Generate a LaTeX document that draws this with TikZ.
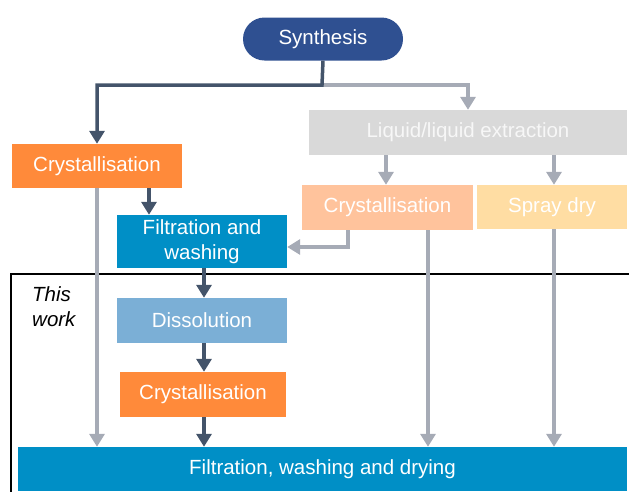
\documentclass[tikz,border=0pt]{standalone}
\usepackage{fontspec}
\setmainfont{Liberation Sans}
\usetikzlibrary{arrows.meta}
\definecolor{synblue}{HTML}{2F5091}
\definecolor{darkline}{HTML}{44546A}
\definecolor{grayline}{HTML}{A6ABB6}
\definecolor{liqgray}{HTML}{D9D9D9}
\definecolor{orangeA}{HTML}{FF8A3A}
\definecolor{orangeB}{HTML}{FFC39C}
\definecolor{yellowB}{HTML}{FFDDA3}
\definecolor{blueA}{HTML}{008FC6}
\definecolor{blueB}{HTML}{7BAFD6}
\tikzset{
  procbox/.style={minimum width=#1, inner sep=0pt, text=white, align=center,
    font=\fontsize{20.5}{25}\selectfont},
  darkarrow/.style={draw=darkline, line width=3.5pt, -{Triangle[width=15pt,length=13pt]}},
  grayarrow/.style={draw=grayline, line width=3.5pt, -{Triangle[width=15pt,length=13pt]}},
}
\begin{document}
\begin{tikzpicture}[x=1pt,y=-1pt]
\useasboundingbox (0,0) rectangle (629,491);
% this-work frame
\draw[line width=1.8pt] (11,274) rectangle (630,500);
\node[anchor=north west, align=left, inner sep=0pt, font=\fontsize{20.5}{25}\selectfont\itshape] (tw) at (32,286) {This\\work};

\node[procbox=160pt, minimum height=43pt, rounded corners=21.5pt, fill=synblue] (syn) at (323,39) {Synthesis};
\node[procbox=318pt, minimum height=45pt, fill=liqgray, text=white!94!gray] (liq) at (468,132.5) {Liquid/liquid extraction};
\node[procbox=170pt, minimum height=44pt, fill=orangeA] (cry1) at (97,166) {Crystallisation};
\node[procbox=171pt, minimum height=45pt, fill=orangeB] (cry2) at (387.5,207.5) {Crystallisation};
\node[procbox=150pt, minimum height=44pt, fill=yellowB] (spray) at (552,207) {Spray dry};
\node[procbox=170pt, minimum height=53pt, fill=blueA] (filt) at (202,241.5) {Filtration and\\washing};
\node[procbox=170pt, minimum height=45pt, fill=blueB] (diss) at (202,320.5) {Dissolution};
\node[procbox=166pt, minimum height=45pt, fill=orangeA] (cry3) at (203,394.5) {Crystallisation};
\node[procbox=609pt, minimum height=44pt, fill=blueA] (fin) at (322.5,469) {Filtration, washing and drying};

% connectors from synthesis
\coordinate (j) at (322,85);
\draw[grayarrow] (j) -| (liq.north);
\draw[darkarrow] (syn.south) -- (j) -| (cry1.north);

% left route
\draw[darkarrow] ([xshift=52pt]cry1.south) -- ([xshift=52pt]cry1.south |- filt.north);
\draw[darkarrow] ([xshift=2pt]filt.south) -- ([xshift=2pt]filt.south |- diss.north);
\draw[darkarrow] ([xshift=2pt]diss.south) -- ([xshift=2pt]diss.south |- cry3.north);
\draw[darkarrow] ([xshift=1pt]cry3.south) -- ([xshift=1pt]cry3.south |- fin.north);
\draw[grayarrow] (cry1.south) -- (cry1.south |- fin.north);

% right routes
\draw[grayarrow] ([xshift=-82pt]liq.south) -- ([xshift=-82pt]liq.south |- cry2.north);
\draw[grayarrow] ([xshift=86pt]liq.south) -- ([xshift=86pt]liq.south |- spray.north);
\draw[grayarrow] ([xshift=-39.5pt]cry2.south) |- ([yshift=-5.5pt]filt.east);
\draw[grayarrow] ([xshift=40.5pt]cry2.south) -- ([xshift=40.5pt]cry2.south |- fin.north);
\draw[grayarrow] ([xshift=2pt]spray.south) -- ([xshift=2pt]spray.south |- fin.north);
\end{tikzpicture}
\end{document}
